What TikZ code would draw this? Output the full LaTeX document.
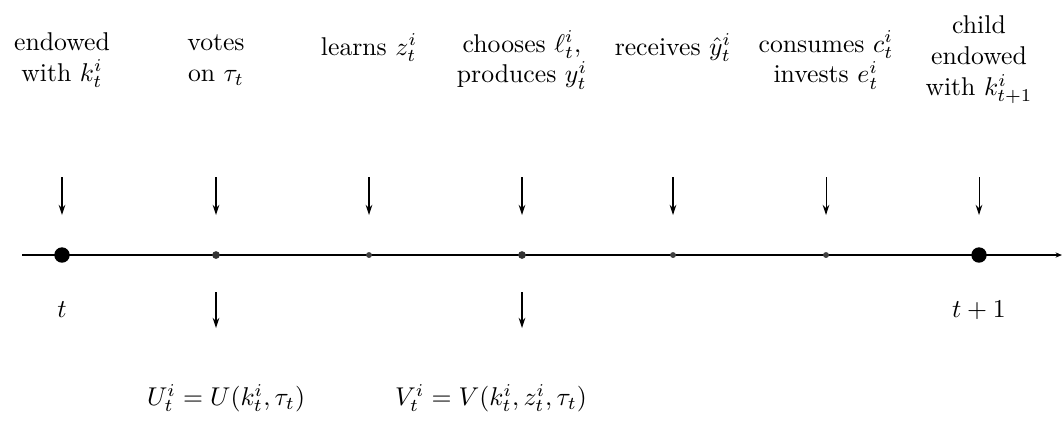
\documentclass[tikz,border=0pt]{standalone}
\usetikzlibrary{arrows.meta}
\begin{document}
\begin{tikzpicture}[x=0.389pt,y=-0.389pt,
  lbl/.style={align=center,inner sep=0pt,font=\normalsize},
  bigdot/.style={circle,fill=black,inner sep=0pt,minimum size=6pt},
  meddot/.style={circle,fill=black!80,inner sep=0pt,minimum size=3pt},
  smalldot/.style={circle,fill=black!75,inner sep=0pt,minimum size=2.3pt},
  tick/.style={line width=0.4pt,-{Stealth[length=4pt,width=2.6pt]}},
  axis/.style={line width=0.5pt,-{Stealth[length=2.5pt,width=2pt]}}]
\useasboundingbox (0,0) rectangle (1062,423);
% timeline
\coordinate (L) at (22,255);
\coordinate (R) at (1062,255);
\draw[axis] (L) -- (R);
% dots
\node[bigdot] (d1) at (62,255) {};
\node[meddot] (d2) at (216,255) {};
\node[smalldot] (d3) at (369,255) {};
\node[meddot] (d4) at (522,255) {};
\node[smalldot] (d5) at (673,255) {};
\node[smalldot] (d6) at (826,255) {};
\node[bigdot] (d7) at (979,255) {};
% top labels
\node[lbl] (l1) at (62,60) {endowed\\with $k^i_t$};
\node[lbl] (l2) at (216,60) {votes\\on $\tau_t$};
\node[lbl,anchor=base] (l3) at (369,55) {learns $z^i_t$};
\node[lbl] (l4) at (522,60) {chooses $\ell^i_t$,\\produces $y^i_t$};
\node[lbl,anchor=base] (l5) at (673,55) {receives $\hat{y}^i_t$};
\node[lbl] (l6) at (826,60) {consumes $c^i_t$\\invests $e^i_t$};
\node[lbl] (l7) at (979,60) {child\\endowed\\with $k^i_{t+1}$};
% top arrows
\foreach \i/\x in {1/62,2/216,3/369,4/522,5/673,6/826,7/979}{
  \coordinate (a\i) at (\x,177);
  \coordinate (b\i) at (\x,215);
  \draw[tick] (a\i) -- (b\i);
}
% bottom arrows
\coordinate (c2) at (216,292);
\coordinate (e2) at (216,328);
\coordinate (c4) at (522,292);
\coordinate (e4) at (522,328);
\draw[tick] (c2) -- (e2);
\draw[tick] (c4) -- (e4);
% bottom labels
\node[lbl] (t1) at (62,310) {$t$};
\node[lbl] (t2) at (979,310) {$t+1$};
\node[lbl] (u) at (226,398) {$U^i_t = U(k^i_t,\tau_t)$};
\node[lbl] (v) at (491,398) {$V^i_t = V(k^i_t,z^i_t,\tau_t)$};
\end{tikzpicture}
\end{document}
